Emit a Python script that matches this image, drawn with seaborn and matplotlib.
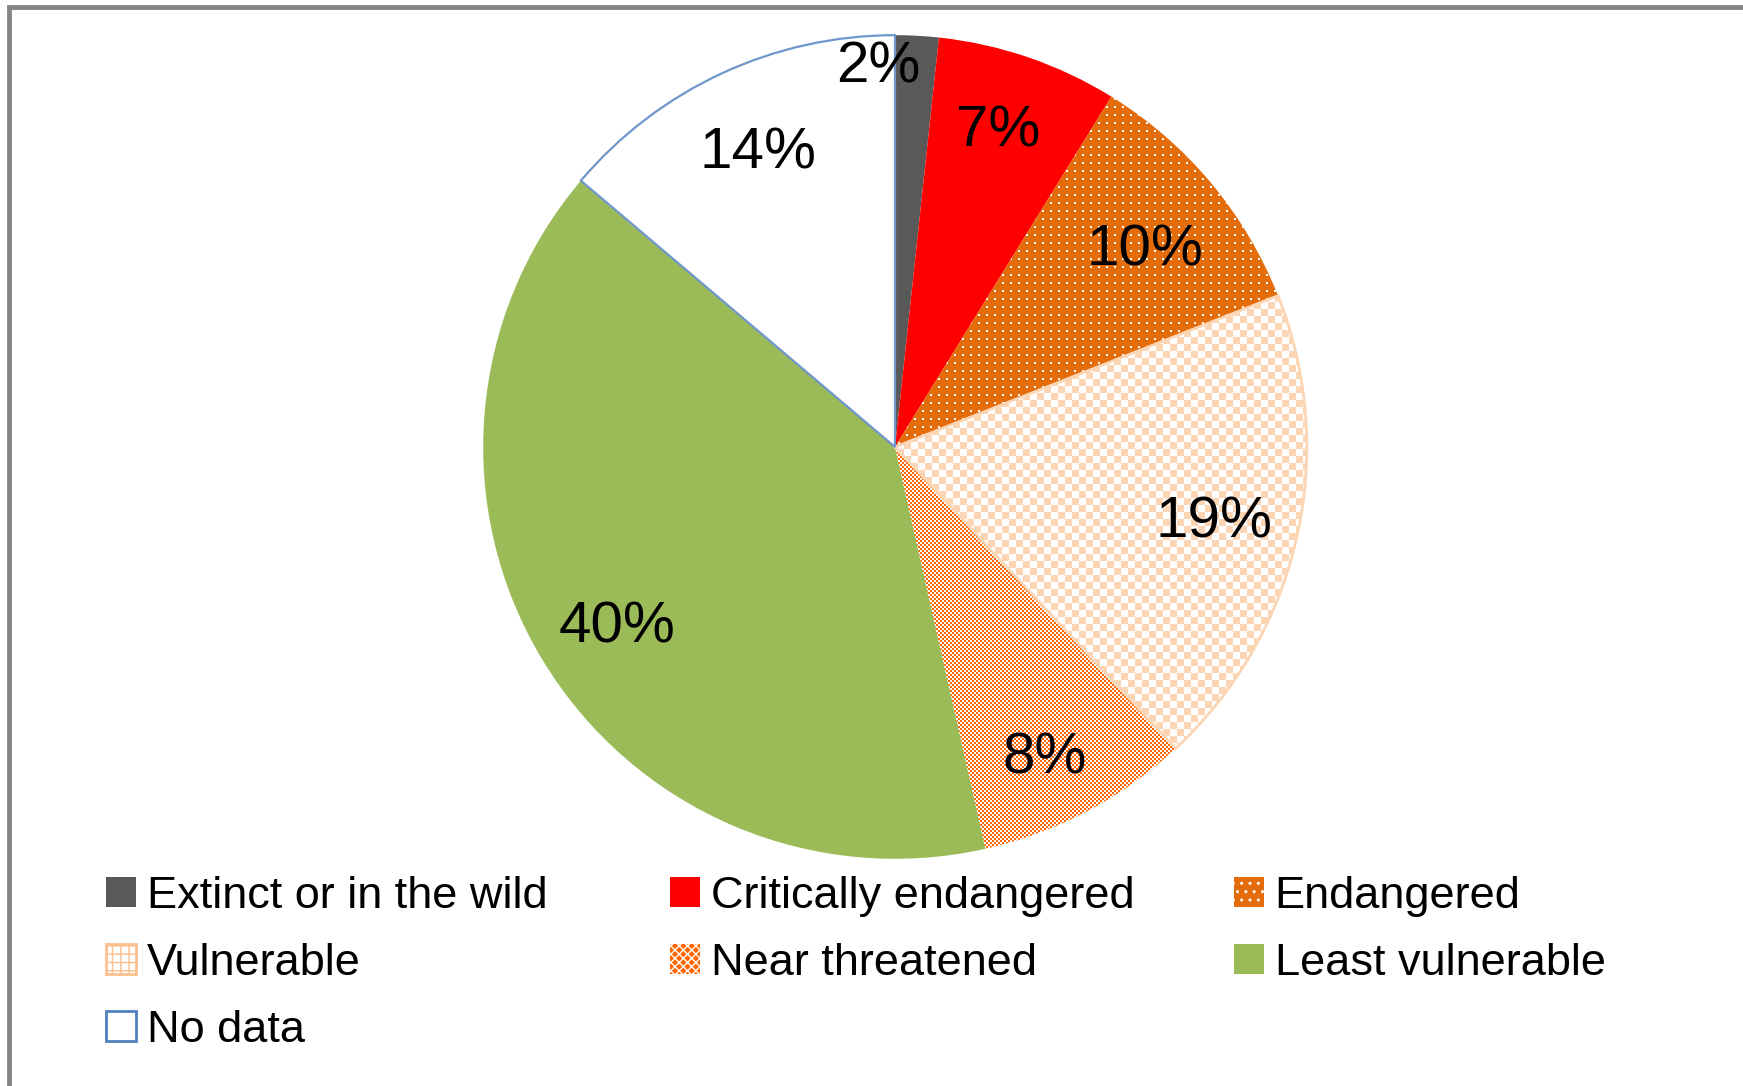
import numpy as np
import matplotlib
matplotlib.use("Agg")
import matplotlib.pyplot as plt
from matplotlib.patches import Patch, Rectangle
import seaborn as sns

# ---------------- data ----------------
categories = ["Extinct or in the wild", "Critically endangered", "Endangered",
              "Vulnerable", "Near threatened", "Least vulnerable", "No data"]
shares = [1.7, 7.1, 10.2, 19.05, 8.4, 39.7, 13.8]
# visual label centres (in pie-radius units) as placed in the original chart
label_x = [-0.040, 0.251, 0.606, 0.774, 0.364, -0.674, -0.332]
label_y = [0.935, 0.779, 0.490, -0.170, -0.744, -0.426, 0.725]

# ---------------- style ----------------
sns.set_theme(style="white")
plt.rcParams["font.family"] = ["Liberation Sans", "DejaVu Sans"]
plt.rcParams["text.color"] = "black"

C_EXT = "#595959"
C_CRIT = "#FF0000"
C_END = "#E46C0A"
C_VUL = "#FCD5B5"
C_NEAR = "#FF6600"
C_LEAST = "#9BBB59"
C_NODATA_EDGE = "#6F97CB"
base_colors = [C_EXT, C_CRIT, C_END, "white", C_NEAR, C_LEAST, "white"]

W, H = 1743, 1086
fig = plt.figure(figsize=(W / 100, H / 100), dpi=100)

# pie geometry (pixels)
cx, cy, R = 895, 447, 412
half = int(round(R * 1.1))
N = 2 * half
ax = fig.add_axes([(cx - half) / W, (H - cy - half) / H, N / W, N / H])

wedges, texts, autotexts = ax.pie(
    shares, colors=base_colors, startangle=90, counterclock=False,
    autopct="%.0f%%", pctdistance=0.8, radius=1,
    wedgeprops=dict(linewidth=0),
    textprops=dict(fontsize=42, color="black"))

# ---------------- textures clipped to wedges ----------------
yy, xx = np.mgrid[0:N, 0:N]


def make_tex(bg, fg, mask):
    img = np.empty((N, N, 3))
    img[:] = matplotlib.colors.to_rgb(bg)
    img[mask] = matplotlib.colors.to_rgb(fg)
    return img


tex_end = make_tex(C_END, "white", ((xx % 8) < 2) & ((yy % 8) < 2))
tex_vul = make_tex("white", C_VUL, ((xx // 7 + yy // 7) % 2) == 0)
tex_near = make_tex("white", C_NEAR, ((xx // 2 + yy // 2) % 2) == 0)

for idx, tex in [(2, tex_end), (3, tex_vul), (4, tex_near)]:
    im = ax.imshow(tex, extent=(-1.1, 1.1, -1.1, 1.1), interpolation="nearest",
                   zorder=2)
    im.set_clip_path(wedges[idx])
    wedges[idx].set_facecolor("none")
    wedges[idx].set_zorder(3)

# edges
wedges[3].set_edgecolor(C_VUL)
wedges[3].set_linewidth(2.0)
wedges[6].set_edgecolor(C_NODATA_EDGE)
wedges[6].set_linewidth(1.6)
wedges[6].set_zorder(4)

ax.set_xlim(-1.1, 1.1)
ax.set_ylim(-1.1, 1.1)
ax.axis("off")

# text renders ~5 px above its anchor; compensate
dy = 5.5 / R
for t, lx, ly in zip(autotexts, label_x, label_y):
    t.set_zorder(6)
    t.set_position((lx, ly - dy))

# ---------------- frame ----------------
fig.add_artist(Rectangle((9 / W, -0.05), 1.2, 1.05 - 7.5 / H,
                         transform=fig.transFigure, fill=False,
                         edgecolor="#868686", linewidth=3.5, zorder=10))

# ---------------- legend ----------------
handles = [
    Patch(facecolor=C_EXT, edgecolor=C_EXT, linewidth=0),
    Patch(facecolor=C_CRIT, edgecolor=C_CRIT, linewidth=0),
    Patch(facecolor=C_END, edgecolor="white", hatch="..", linewidth=0),
    Patch(facecolor="white", edgecolor="#FBC08E", hatch="++", linewidth=2),
    Patch(facecolor=C_NEAR, edgecolor="white", hatch="xxxx", linewidth=0),
    Patch(facecolor=C_LEAST, edgecolor=C_LEAST, linewidth=0),
    Patch(facecolor="white", edgecolor="#4F81BD", linewidth=2),
]

columns = [[0, 3, 6], [1, 4], [2, 5]]
col_x = [106, 670, 1234]
top_y = 876
fs = 32.5
for cols, x0 in zip(columns, col_x):
    fig.legend([handles[i] for i in cols], [categories[i] for i in cols],
               loc="upper left", bbox_to_anchor=(x0 / W, 1 - top_y / H),
               frameon=False, fontsize=fs, borderpad=0, borderaxespad=0,
               handlelength=0.66, handleheight=0.66, handletextpad=0.24,
               labelspacing=0.575, labelcolor="black")

fig.savefig("out.png", dpi=100, facecolor="white")
